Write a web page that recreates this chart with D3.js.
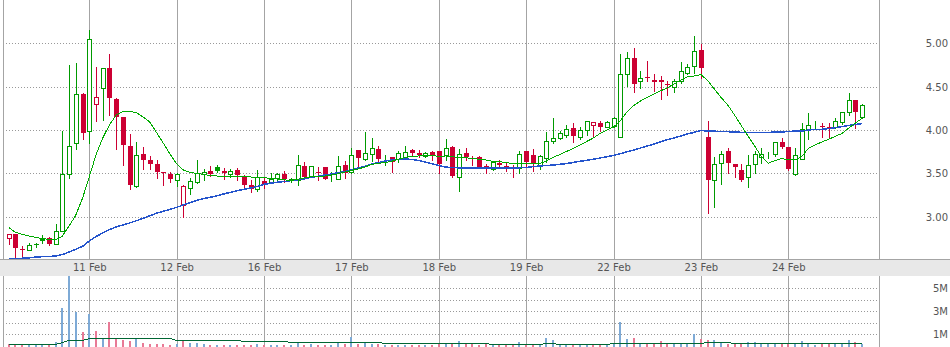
<!DOCTYPE html>
<html>
<head>
<meta charset="utf-8">
<script src="https://cdn.jsdelivr.net/npm/d3@7"></script>
<style>
  body { margin: 0; background: #fff; }
  text { font-family: "DejaVu Sans", Verdana, sans-serif; font-size: 10px; fill: #555; }
</style>
</head>
<body>
<script>
// trading days shown (first day is only partly visible), 30 minute bars
const days = ['10 Feb', '11 Feb', '12 Feb', '16 Feb', '17 Feb', '18 Feb', '19 Feb', '22 Feb', '23 Feb', '24 Feb'];
const barsPerDay = [12, 13, 13, 13, 13, 13, 13, 13, 13, 12];
const priorClose = 2.85;

const open = [2.75,2.80,2.63,2.615,2.685,2.735,2.755,2.69,2.83,3.49,
  3.85,4.415,3.99,4.30,4.48,4.71,4.36,4.15,3.82,3.35,
  3.72,3.655,3.61,3.51,3.49,3.42,3.13,3.33,3.40,3.49,
  3.527,3.57,3.527,3.495,3.54,3.46,3.365,3.315,3.41,3.39,
  3.443,3.49,3.425,3.42,3.585,3.46,3.515,3.577,3.465,3.438,
  3.595,3.515,3.77,3.662,3.72,3.78,3.66,3.688,3.665,3.692,
  3.769,3.735,3.70,3.746,3.758,3.712,3.804,3.454,3.731,3.677,
  3.688,3.58,3.546,3.623,3.588,3.565,3.558,3.758,3.712,3.588,
  3.673,3.869,3.904,3.942,4.023,3.923,3.996,4.061,4.081,4.038,
  4.046,3.923,4.643,4.827,4.565,4.606,4.577,4.575,4.53,4.492,
  4.569,4.654,4.742,4.923,3.919,3.42,3.615,3.758,3.608,3.538,
  3.454,3.604,3.685,3.725,3.723,3.858,3.808,3.492,3.662,4.0,
  4.054,4.042,4.03,4.035,4.089,4.204,4.346,4.146];
const high = [2.80,2.80,2.66,2.70,2.70,2.785,2.765,2.92,3.99,4.75,
  4.77,4.43,5.15,4.73,4.71,4.88,4.37,4.15,3.95,3.86,
  3.80,3.70,3.65,3.52,3.515,3.50,3.37,3.45,3.65,3.55,
  3.59,3.60,3.56,3.55,3.56,3.48,3.42,3.535,3.445,3.50,
  3.50,3.53,3.445,3.71,3.63,3.58,3.57,3.577,3.52,3.70,
  3.64,3.79,3.77,3.975,3.91,3.81,3.71,3.688,3.76,3.82,
  3.777,3.77,3.75,3.76,3.758,3.893,3.82,3.784,3.796,3.70,
  3.70,3.604,3.642,3.654,3.623,3.592,3.761,3.758,3.781,3.712,
  3.977,4.142,3.992,4.058,4.077,4.038,4.108,4.092,4.104,4.108,
  4.154,4.877,4.896,4.942,4.681,4.796,4.646,4.623,4.565,4.585,
  4.788,4.762,5.085,4.992,4.108,3.692,3.761,3.796,3.608,3.608,
  3.712,3.758,3.796,3.75,3.865,3.908,3.808,3.789,4.077,4.192,
  4.104,4.085,4.085,4.135,4.211,4.423,4.346,4.296];
const low = [2.69,2.54,2.53,2.61,2.645,2.70,2.67,2.69,2.83,3.45,
  3.78,3.90,3.85,4.10,4.12,4.17,3.78,3.60,3.32,3.34,
  3.55,3.55,3.45,3.36,3.40,3.35,3.00,3.26,3.385,3.42,
  3.47,3.51,3.43,3.46,3.42,3.33,3.28,3.30,3.33,3.385,
  3.42,3.40,3.40,3.365,3.43,3.455,3.42,3.43,3.41,3.435,
  3.45,3.50,3.57,3.655,3.645,3.645,3.595,3.52,3.627,3.677,
  3.70,3.69,3.685,3.658,3.508,3.654,3.454,3.296,3.654,3.60,
  3.565,3.508,3.538,3.57,3.531,3.462,3.50,3.588,3.531,3.554,
  3.627,3.853,3.90,3.923,3.865,3.90,3.946,3.923,3.992,4.031,
  4.031,3.923,4.508,4.442,4.488,4.569,4.453,4.354,4.407,4.435,
  4.538,4.646,4.654,4.596,3.046,3.115,3.373,3.50,3.454,3.412,
  3.346,3.50,3.615,3.673,3.70,3.792,3.538,3.485,3.662,3.90,
  4.012,3.923,3.923,4.023,4.066,4.177,4.027,4.138];
const close = [2.80,2.64,2.625,2.67,2.68,2.74,2.69,2.83,3.49,3.82,
  4.41,3.97,5.05,4.38,4.71,4.37,4.15,3.83,3.37,3.71,
  3.65,3.61,3.51,3.505,3.44,3.49,3.35,3.41,3.50,3.515,
  3.49,3.53,3.505,3.523,3.48,3.365,3.315,3.46,3.365,3.44,
  3.49,3.43,3.435,3.595,3.46,3.58,3.508,3.438,3.47,3.58,
  3.508,3.71,3.68,3.73,3.79,3.662,3.665,3.634,3.738,3.75,
  3.738,3.712,3.731,3.712,3.611,3.789,3.473,3.719,3.685,3.662,
  3.577,3.575,3.631,3.60,3.562,3.56,3.723,3.634,3.608,3.70,
  3.869,3.908,3.962,4.008,3.931,3.996,4.10,4.088,4.038,4.088,
  4.135,4.643,4.827,4.534,4.604,4.60,4.557,4.553,4.527,4.569,
  4.684,4.723,4.912,4.719,3.423,3.604,3.727,3.623,3.577,3.423,
  3.592,3.719,3.723,3.727,3.858,3.80,3.546,3.712,4.008,4.054,
  4.055,4.038,4.023,4.108,4.204,4.343,4.212,4.285];

// moving averages as drawn on the chart
const fastMA = [2.875,2.820,2.797,2.777,2.762,2.746,2.739,2.731,2.777,2.892,
  3.019,3.215,3.461,3.712,3.908,4.058,4.173,4.213,4.213,4.202,
  4.150,4.092,3.971,3.850,3.723,3.608,3.538,3.510,3.500,3.487,
  3.475,3.469,3.463,3.463,3.469,3.463,3.458,3.454,3.448,3.443,
  3.435,3.425,3.417,3.432,3.446,3.460,3.463,3.469,3.481,3.495,
  3.515,3.533,3.550,3.573,3.602,3.616,3.625,3.639,3.665,3.683,
  3.698,3.700,3.703,3.703,3.698,3.700,3.691,3.685,3.680,3.671,
  3.663,3.654,3.640,3.633,3.627,3.610,3.613,3.616,3.610,3.613,
  3.642,3.683,3.717,3.752,3.787,3.827,3.867,3.908,3.960,4.000,
  4.035,4.104,4.208,4.283,4.335,4.375,4.415,4.452,4.485,4.531,
  4.577,4.615,4.623,4.640,4.571,4.473,4.375,4.288,4.173,4.052,
  3.931,3.815,3.694,3.616,3.646,3.671,3.654,3.654,3.692,3.789,
  3.827,3.862,3.893,3.927,3.960,4.023,4.081,4.135];
const slowMA = [2.520,2.520,2.520,2.523,2.535,2.538,2.540,2.546,2.563,2.592,
  2.623,2.658,2.719,2.771,2.812,2.850,2.881,2.904,2.927,2.953,
  2.981,3.011,3.039,3.062,3.083,3.108,3.135,3.161,3.189,3.210,
  3.223,3.242,3.262,3.281,3.300,3.316,3.331,3.348,3.373,3.386,
  3.397,3.406,3.415,3.425,3.437,3.454,3.466,3.481,3.492,3.506,
  3.519,3.538,3.562,3.581,3.608,3.623,3.642,3.654,3.662,3.665,
  3.660,3.648,3.631,3.610,3.590,3.573,3.565,3.564,3.564,3.564,
  3.564,3.564,3.564,3.564,3.564,3.564,3.564,3.567,3.577,3.585,
  3.590,3.596,3.604,3.613,3.625,3.639,3.650,3.662,3.677,3.691,
  3.706,3.727,3.748,3.769,3.792,3.815,3.838,3.864,3.888,3.908,
  3.931,3.954,3.973,3.994,3.988,3.986,3.983,3.980,3.977,3.973,
  3.973,3.973,3.973,3.973,3.975,3.977,3.983,3.988,3.988,4.000,
  4.008,4.008,4.017,4.027,4.040,4.052,4.063,4.075];

// volume in millions
const volume = [0.13,0.13,0.13,0.13,0.13,0.13,0.07,0.36,3.32,6.3,
  2.97,1.17,2.74,1.29,0.71,2.04,0.71,0.5,0.45,0.71,
  0.24,0.13,0.16,0.16,0.07,0.16,0.42,0.24,0.24,0.16,
  0.07,0.07,0.07,0.07,0.07,0.07,0.07,0.19,0.07,0.07,
  0.07,0.07,0.07,0.24,0.07,0.16,0.07,0.03,0.03,0.24,
  0.19,0.77,0.19,0.24,0.19,0.13,0.07,0.07,0.07,0.07,
  0.07,0.07,0.07,0.07,0.19,0.19,0.24,0.42,0.24,0.13,
  0.07,0.13,0.03,0.03,0.03,0.19,0.36,0.19,0.19,0.19,
  0.71,0.5,0.19,0.13,0.19,0.13,0.13,0.19,0.19,0.19,
  0.19,2.1,0.59,0.71,0.24,0.19,0.13,0.42,0.13,0.19,
  0.24,0.13,1.03,0.59,0.48,0.5,0.3,0.19,0.13,0.13,
  0.3,0.3,0.13,0.13,0.13,0.24,0.24,0.19,0.42,0.24,
  0.03,0.24,0.24,0.19,0.13,0.5,0.36,0.13];
const volumeMA = [0.13,0.13,0.13,0.13,0.13,0.13,0.13,0.13,0.3,0.47,
  0.53,0.53,0.7,0.7,0.7,0.7,0.7,0.7,0.7,0.7,
  0.7,0.65,0.65,0.65,0.65,0.53,0.53,0.53,0.53,0.53,
  0.48,0.48,0.48,0.48,0.48,0.39,0.39,0.39,0.39,0.39,
  0.39,0.39,0.3,0.3,0.3,0.3,0.3,0.3,0.3,0.3,
  0.3,0.3,0.3,0.3,0.3,0.3,0.21,0.21,0.21,0.21,
  0.21,0.21,0.21,0.21,0.21,0.21,0.21,0.21,0.21,0.21,
  0.21,0.21,0.13,0.13,0.13,0.13,0.13,0.13,0.13,0.13,
  0.21,0.21,0.13,0.13,0.13,0.13,0.13,0.13,0.13,0.13,
  0.21,0.21,0.21,0.21,0.21,0.21,0.21,0.21,0.21,0.21,
  0.21,0.21,0.21,0.21,0.3,0.3,0.3,0.3,0.21,0.21,
  0.21,0.21,0.21,0.21,0.21,0.21,0.21,0.21,0.21,0.21,
  0.21,0.21,0.21,0.21,0.21,0.21,0.21,0.21];

const priceTicks = [3, 3.5, 4, 4.5, 5];
const volGrid = [1, 2, 3, 4, 5];
const volLabels = [1, 3, 5];

w = 950;
h = 347;
left = 3;
right = 879;
priceBottom = 259;
bandBottom = 276;

const up = '#009a00', down = '#cc0033';
const volUp = '#7eaad6', volDown = '#e87a96';

let xScale = d3.scaleLinear().domain([-0.84, 129.5]).range([left, right]);
let yScale = d3.scaleLinear().domain([2.5115, 5.5]).range([priceBottom, 0]);
let vScale = d3.scaleLinear().domain([0, 6.07]).range([345.8, bandBottom]);

const dayStart = [0, ...d3.cumsum(barsPerDay)].slice(0, days.length);
const bars = d3.range(close.length).map(i => ({
  i, o: open[i], h: high[i], l: low[i], c: close[i],
  rising: close[i] > (i ? close[i - 1] : priorClose)
}));

svg = d3.select('body').append('svg')
  .attr('width', w)
  .attr('height', h)
  .attr('shape-rendering', 'crispEdges');

svg.append('defs').append('clipPath').attr('id', 'volclip')
  .append('rect').attr('x', left).attr('y', bandBottom).attr('width', right - left).attr('height', h - bandBottom);

// horizontal dotted grid, price panel
svg.append('g').selectAll('line')
  .data(priceTicks).enter().append('line')
  .attr('x1', left).attr('x2', right)
  .attr('y1', d => Math.round(yScale(d)) + 0.5).attr('y2', d => Math.round(yScale(d)) + 0.5)
  .attr('stroke', '#999').attr('stroke-dasharray', '1,2');

// horizontal dotted grid, volume panel
svg.append('g').selectAll('line')
  .data(volGrid).enter().append('line')
  .attr('x1', left).attr('x2', right)
  .attr('y1', d => Math.round(vScale(d)) + 0.5).attr('y2', d => Math.round(vScale(d)) + 0.5)
  .attr('stroke', '#999').attr('stroke-dasharray', '1,2');

// day separators
const sep = svg.append('g').attr('stroke', '#a4a4a4');
dayStart.slice(1).forEach(s => {
  const x = Math.round(xScale(s)) + 0.5;
  sep.append('line').attr('x1', x).attr('x2', x).attr('y1', 0).attr('y2', priceBottom);
  sep.append('line').attr('x1', x).attr('x2', x).attr('y1', bandBottom).attr('y2', h);
});
[left, right].forEach(x => {
  sep.append('line').attr('x1', x + 0.5).attr('x2', x + 0.5).attr('y1', 0).attr('y2', h);
});

// volume bars
svg.append('g').attr('clip-path', 'url(#volclip)')
  .selectAll('rect').data(bars).enter().append('rect')
  .attr('x', d => Math.round(xScale(d.i)) - 1)
  .attr('width', 2)
  .attr('y', d => Math.round(vScale(volume[d.i])))
  .attr('height', d => h - Math.round(vScale(volume[d.i])))
  .attr('fill', d => d.rising ? volUp : volDown);

svg.append('path')
  .datum(volumeMA)
  .attr('fill', 'none')
  .attr('stroke', '#006633')
  .attr('stroke-width', 1)
  .attr('d', d3.line().x((d, i) => xScale(i)).y(d => Math.round(vScale(d)) + 0.5));

// candles
const candle = svg.append('g').selectAll('g').data(bars).enter().append('g')
  .attr('stroke', d => d.rising ? up : down)
  .attr('fill', d => d.rising ? up : down);

candle.append('line')
  .attr('x1', d => Math.round(xScale(d.i)) + 0.5)
  .attr('x2', d => Math.round(xScale(d.i)) + 0.5)
  .attr('y1', d => Math.round(yScale(d.h)))
  .attr('y2', d => Math.round(yScale(d.l)) + 1);

candle.append('rect')
  .each(function (d) {
    const cx = Math.round(xScale(d.i));
    const top = Math.round(yScale(Math.max(d.o, d.c)));
    const bot = Math.round(yScale(Math.min(d.o, d.c)));
    const sel = d3.select(this);
    if (d.c > d.o) {
      sel.attr('x', cx - 1.5).attr('width', 4)
        .attr('y', top + 0.5).attr('height', Math.max(bot - top, 0))
        .attr('fill', '#fff');
    } else {
      sel.attr('x', cx - 2).attr('width', 5)
        .attr('y', top).attr('height', Math.max(bot - top, 1))
        .attr('stroke', 'none');
    }
  });

// moving averages
svg.append('path')
  .datum(slowMA)
  .attr('fill', 'none')
  .attr('stroke', '#2454cc')
  .attr('stroke-width', 1.5)
  .attr('d', d3.line().x((d, i) => xScale(i)).y(d => yScale(d)));

svg.append('path')
  .datum(fastMA)
  .attr('fill', 'none')
  .attr('stroke', '#00aa00')
  .attr('stroke-width', 1)
  .attr('d', d3.line().x((d, i) => xScale(i)).y(d => yScale(d)));

// date band
svg.append('rect')
  .attr('x', 0).attr('y', priceBottom)
  .attr('width', w).attr('height', bandBottom - priceBottom)
  .attr('fill', '#e8e8e8');
svg.append('line')
  .attr('x1', 0).attr('x2', w)
  .attr('y1', priceBottom + 0.5).attr('y2', priceBottom + 0.5)
  .attr('stroke', '#a4a4a4');

svg.append('g').selectAll('text')
  .data(days.slice(1)).enter().append('text')
  .attr('x', (d, k) => xScale(dayStart[k + 1]) + 0.5)
  .attr('y', 271)
  .attr('text-anchor', 'middle')
  .text(d => d);

// right hand labels
svg.append('g').selectAll('text')
  .data(priceTicks).enter().append('text')
  .attr('x', 948)
  .attr('y', d => yScale(d) + 4)
  .attr('text-anchor', 'end')
  .text(d => d3.format('.2f')(d));

svg.append('g').selectAll('text')
  .data(volLabels).enter().append('text')
  .attr('x', 948)
  .attr('y', d => vScale(d) + 4)
  .attr('text-anchor', 'end')
  .text(d => d + 'M');
</script>
</body>
</html>
